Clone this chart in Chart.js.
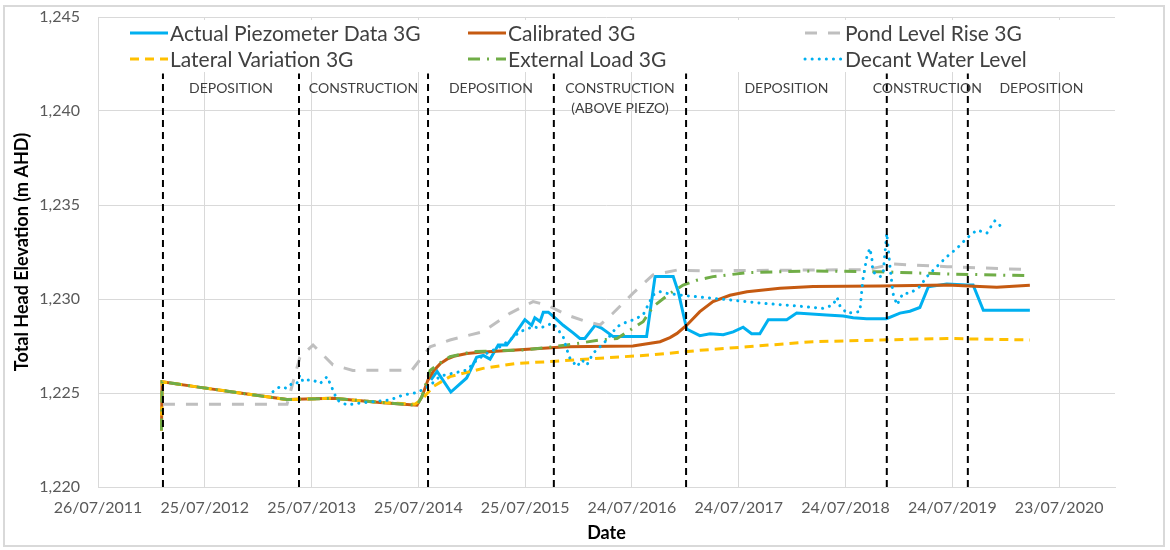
<!DOCTYPE html>
<html>
<head>
<meta charset="utf-8">
<script src="https://cdn.jsdelivr.net/npm/chart.js"></script>
<style>
  html, body { margin: 0; padding: 0; background: #fff; }
  #wrap { position: relative; width: 1170px; height: 550px; }
  #frame { position: absolute; left: 3px; top: 5px; width: 1162px; height: 542px; border: 2px solid #d9d9d9; box-sizing: border-box; pointer-events: none; }
</style>
</head>
<body>
<div id="wrap">
  <canvas id="chart" width="1170" height="550"></canvas>
  <div id="frame"></div>
</div>
<script>
/* ── piezometer 3G — total head vs date ───── */

// x values are days after 26/07/2011 (first tick of the date axis)
const seriesNames = ['Actual Piezometer Data 3G', 'Calibrated 3G', 'Pond Level Rise 3G',
                     'Lateral Variation 3G', 'External Load 3G', 'Decant Water Level'];

const piezoDays = [1138,1159,1206,1260,1294,1317,1340,1368,1397,1419,1459,1482,1493,1511,1522,1539,1562,1590,1624,1647,
                   1664,1699,1721,1761,1875,1904,1966,1983,2012,2057,2092,2137,2171,2205,2234,2262,2291,2354,2388,2490,
                   2547,2581,2627,2695,2741,2775,2809,2838,2901,2969,2991,3026,3185];
const piezoVals = [1225.7,1226.15,1225.05,1225.8,1226.9,1227.0,1226.8,1227.55,1227.55,1228.0,1228.9,1228.6,1229.0,1228.8,1229.3,1229.3,1229.0,1228.6,1228.2,1227.9,
                   1227.9,1228.6,1228.45,1228.0,1228.0,1231.2,1231.2,1230.4,1228.4,1228.05,1228.15,1228.1,1228.25,1228.5,1228.15,1228.15,1228.9,1228.9,1229.25,1229.15,
                   1229.1,1229.0,1228.95,1228.95,1229.25,1229.35,1229.55,1230.65,1230.8,1230.75,1230.75,1229.4,1229.4];

const calDays = [217,219,349,485,646,803,964,1090,1107,1128,1148,1169,1193,1220,1261,1306,1442,1603,1828,1921,
                 1955,1979,2013,2057,2102,2160,2218,2331,2444,2673,2902,3014,3072,3185];
const calVals = [1223.0,1225.6,1225.3,1225.0,1224.65,1224.72,1224.5,1224.35,1224.8,1225.7,1226.2,1226.55,1226.8,1226.97,1227.1,1227.17,1227.3,1227.46,1227.5,1227.73,
                 1227.95,1228.17,1228.62,1229.33,1229.86,1230.2,1230.39,1230.57,1230.66,1230.69,1230.74,1230.66,1230.62,1230.73];

const pondDays = [222,646,690,735,803,871,1073,1135,1203,1316,1408,1487,1535,1603,1671,1716,1760,1828,1897,1979,
                  2057,2628,2717,2785,2902,3185];
const pondVals = [1224.4,1224.4,1226.9,1227.55,1226.5,1226.2,1226.22,1227.46,1227.82,1228.26,1229.24,1229.86,1229.68,1229.15,1228.79,1228.62,1229.24,1230.3,1231.28,1231.54,
                  1231.5,1231.56,1231.86,1231.81,1231.72,1231.56];

const latDays = [217,219,349,485,646,803,964,1083,1111,1145,1203,1316,1432,1545,1716,1887,2057,2218,2444,2673,2902,3185];
const latVals = [1223.0,1225.6,1225.3,1225.0,1224.65,1224.72,1224.5,1224.4,1224.72,1225.34,1225.87,1226.31,1226.58,1226.67,1226.85,1227.02,1227.27,1227.46,1227.73,1227.82,1227.9,1227.82];

const extDays = [217,219,349,485,646,803,964,1090,1107,1135,1169,1203,1282,1466,1603,1716,1774,1863,1897,1955,
                 2000,2047,2102,2218,2444,2673,2902,3185];
const extVals = [1223.0,1225.6,1225.3,1225.0,1224.65,1224.72,1224.5,1224.35,1224.8,1226.2,1226.6,1226.93,1227.2,1227.3,1227.55,1227.82,1227.9,1228.79,1229.59,1230.3,
                 1230.74,1231.0,1231.19,1231.4,1231.49,1231.45,1231.33,1231.24];

const decDays = [598,622,646,663,680,690,701,718,735,759,783,793,803,817,851,885,940,998,1042,1090,
                 1135,1169,1213,1261,1295,1329,1374,1408,1442,1487,1511,1535,1555,1569,1590,1603,1613,1637,1654,1671,
                 1692,1716,1739,1774,1808,1828,1863,1897,1921,1945,1989,2047,2160,2273,2389,2478,2512,2526,2536,2560,
                 2604,2614,2628,2638,2645,2648,2673,2683,2696,2700,2707,2717,2731,2751,2775,2809,2833,2867,2902,2936,
                 2970,3004,3038,3048,3066,3093];
const decVals = [1225.07,1225.34,1225.25,1225.51,1225.51,1225.96,1225.6,1225.69,1225.69,1225.5,1225.87,1225.51,1225.16,1224.63,1224.36,1224.45,1224.54,1224.63,1224.89,1225.02,
                 1225.4,1225.9,1226.05,1226.22,1226.76,1227.11,1227.46,1227.82,1228.26,1228.53,1228.44,1228.62,1228.7,1228.44,1227.99,1227.29,1226.85,1226.4,1226.76,1226.49,
                 1227.11,1227.46,1227.82,1228.53,1228.79,1228.88,1229.15,1230.21,1230.39,1230.3,1230.21,1230.12,1229.95,1229.77,1229.63,1229.5,1229.68,1230.09,1229.63,1229.24,
                 1229.33,1231.0,1232.26,1232.7,1232.17,1231.45,1231.19,1231.28,1233.5,1232.8,1231.72,1230.3,1229.68,1230.3,1230.3,1230.66,1231.19,1231.72,1232.26,1232.7,
                 1233.24,1233.67,1233.5,1233.76,1234.17,1233.76];

// stage boundaries (days) and the labels written between them
const phaseStarts = [222, 687, 1128, 1558, 2010, 2696, 2973];
const phaseNames = [['DEPOSITION'], ['CONSTRUCTION'], ['DEPOSITION'], ['CONSTRUCTION', '(ABOVE PIEZO)'],
                    ['DEPOSITION'], ['CONSTRUCTION'], ['DEPOSITION']];

const AXIS_START = Date.UTC(2011, 6, 26);
const X_MAX = 3476;
const FONT = 'Lato, "Open Sans", sans-serif';

const pts = (xs, ys) => xs.map((x, i) => ({ x, y: ys[i] }));
const fmtDate = (d) => {
  const t = new Date(AXIS_START + d * 86400000);
  const p = n => String(n).padStart(2, '0');
  return `${p(t.getUTCDate())}/${p(t.getUTCMonth() + 1)}/${t.getUTCFullYear()}`;
};

const line = (label, data, color, dash, order, extra) => Object.assign({
  label, data, order,
  borderColor: color, backgroundColor: color,
  borderWidth: 3, borderDash: dash, pointRadius: 0, tension: 0, fill: false
}, extra || {});

const datasets = [
  line(seriesNames[0], pts(piezoDays, piezoVals), '#00b0f0', [], 6),
  line(seriesNames[1], pts(calDays, calVals), '#c55a11', [], 5),
  line(seriesNames[2], pts(pondDays, pondVals), '#bfbfbf', [12, 11], 4),
  line(seriesNames[3], pts(latDays, latVals), '#ffc000', [9, 6], 3),
  line(seriesNames[4], pts(extDays, extVals), '#70ad47', [12, 7, 2, 7], 2),
  line(seriesNames[5], pts(decDays, decVals), '#00b0f0', [0.1, 7], 1, { borderCapStyle: 'round' })
];
phaseStarts.forEach(d => datasets.push({
  label: '', data: [{ x: d, y: 1220 }, { x: d, y: 1242 }], order: 0,
  borderColor: '#000', borderWidth: 2, borderDash: [7, 5], pointRadius: 0, fill: false
}));

// stage labels across the top of the plot
const phaseLabels = {
  id: 'phaseLabels',
  afterDraw(chart) {
    const { ctx, scales: { x, y } } = chart;
    ctx.save();
    ctx.font = `14px ${FONT}`;
    ctx.fillStyle = '#404040';
    ctx.textAlign = 'center';
    ctx.textBaseline = 'middle';
    phaseStarts.forEach((d, i) => {
      const end = i + 1 < phaseStarts.length ? phaseStarts[i + 1] : X_MAX;
      const cx = (x.getPixelForValue(d) + x.getPixelForValue(end)) / 2;
      phaseNames[i].forEach((t, j) => ctx.fillText(t, cx, y.getPixelForValue(1241.2 - j * 1.05)));
    });
    ctx.restore();
  }
};

// excel-like legend: 3 columns x 2 rows inside the plot, white box behind
const gridLegend = {
  id: 'gridLegend',
  afterDraw(chart) {
    const ctx = chart.ctx;
    const cols = [130, 468, 805], rows = [33, 59];
    ctx.save();
    ctx.fillStyle = '#fff';
    ctx.fillRect(122, 20, 980, 52);
    ctx.font = `21px ${FONT}`;
    ctx.textBaseline = 'middle';
    ctx.textAlign = 'left';
    for (let i = 0; i < 6; i++) {
      const ds = chart.data.datasets[i];
      const lx = cols[i % 3], ly = rows[Math.floor(i / 3)];
      ctx.strokeStyle = ds.borderColor;
      ctx.lineWidth = 3;
      ctx.setLineDash(ds.borderDash);
      ctx.lineCap = ds.borderCapStyle || 'butt';
      ctx.beginPath();
      ctx.moveTo(lx, ly);
      ctx.lineTo(lx + 38, ly);
      ctx.stroke();
      ctx.fillStyle = '#404040';
      ctx.fillText(ds.label, lx + 40, ly + 1);
    }
    ctx.restore();
  }
};

new Chart(document.getElementById('chart'), {
  type: 'line',
  data: { datasets },
  options: {
    responsive: false,
    animation: false,
    layout: { padding: { top: 17, right: 55, left: 0, bottom: 0 } },
    plugins: { legend: { display: false }, tooltip: { enabled: false } },
    scales: {
      x: {
        type: 'linear', min: 0, max: X_MAX,
        grid: { color: '#d9d9d9', lineWidth: 1, drawTicks: false },
        border: { color: '#d9d9d9' },
        ticks: {
          stepSize: 365, includeBounds: false, autoSkip: false, maxRotation: 0, padding: 11,
          color: '#595959', font: { family: FONT, size: 16 },
          callback: v => fmtDate(v)
        },
        title: { display: true, text: 'Date', color: '#000', font: { family: FONT, size: 18, weight: 'bold' }, padding: { bottom: 6 } },
        afterFit: s => { s.height = 63; s.paddingRight = 0; }
      },
      y: {
        min: 1220, max: 1245,
        grid: { color: '#d9d9d9', lineWidth: 1, drawTicks: false },
        border: { display: false },
        ticks: {
          stepSize: 5, padding: 18, color: '#595959', font: { family: FONT, size: 16 },
          callback: v => v.toLocaleString('en-US')
        },
        title: { display: true, text: 'Total Head Elevation (m AHD)', color: '#000', font: { family: FONT, size: 18, weight: 'bold' }, padding: { top: 11 } },
        afterFit: s => { s.width = 98; s.paddingTop = 0; s.paddingBottom = 0; }
      }
    }
  },
  plugins: [phaseLabels, gridLegend]
});
</script>
</body>
</html>
